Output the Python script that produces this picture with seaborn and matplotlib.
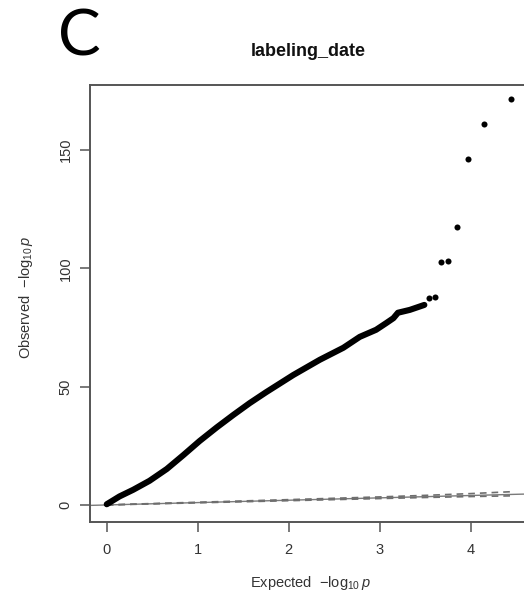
import matplotlib
matplotlib.use("Agg")
import matplotlib.pyplot as plt
import seaborn as sns

# Q-Q plot of association p-values: expected vs observed -log10(p)
# dense body of the distribution (traced as a path)
curve_expected = [0.00, 0.14, 0.29, 0.47, 0.66, 0.84, 1.02, 1.21, 1.39, 1.57,
                  1.75, 2.05, 2.34, 2.60, 2.78, 2.96, 3.07, 3.15, 3.20, 3.33, 3.49]
curve_observed = [0.3, 3.6, 6.4, 10.2, 15.2, 21.0, 27.0, 32.8, 38.0, 43.0,
                  47.6, 54.9, 61.3, 66.4, 71.0, 74.0, 76.8, 78.9, 81.2, 82.4, 84.5]

# the most significant hits, shown as separate points
top_expected = [4.447, 4.146, 3.970, 3.845, 3.748, 3.669, 3.602, 3.544]
top_observed = [171.6, 160.8, 146.3, 117.6, 103.2, 102.7, 88.0, 87.3]

# 95% band around the null expectation
band_expected = [0.0, 0.5, 1.0, 2.0, 3.0, 3.5, 4.0, 4.447]
band_upper = [0.0, 0.6, 1.15, 2.25, 3.4, 4.05, 4.8, 5.6]
band_lower = [0.0, 0.45, 0.9, 1.8, 2.7, 3.15, 3.55, 3.85]

x_ticks = [0, 1, 2, 3, 4]
y_ticks = [0, 50, 100, 150]
title = "labeling_date"
panel = "C"
x_label = r"Expected  $-\mathrm{log}_{10}\,\mathit{p}$"
y_label = r"Observed  $-\mathrm{log}_{10}\,\mathit{p}$"

sns.set_theme(style="white")
plt.rcParams["font.family"] = ["Liberation Sans", "DejaVu Sans"]
plt.rcParams["mathtext.fontset"] = "custom"
plt.rcParams["mathtext.rm"] = "Liberation Sans"
plt.rcParams["mathtext.it"] = "Liberation Sans:italic"
plt.rcParams["mathtext.bf"] = "Liberation Sans:bold"

W, H = 524, 596
fig = plt.figure(figsize=(W / 100, H / 100), dpi=100)
fig.patch.set_facecolor("white")
# plot region runs slightly past the right edge of the canvas
ax = fig.add_axes([90 / W, 1 - 522 / H, 443 / W, 437 / H])
ax.set_facecolor("white")

# null line y = x
ax.axline((0, 0), slope=1, color="#7a7a7a", lw=1.0, zorder=1)
sns.lineplot(x=band_expected, y=band_upper, ax=ax, color="#6e6e6e", lw=1.2,
             linestyle=(0, (4, 3)), sort=False, zorder=2)
sns.lineplot(x=band_expected, y=band_lower, ax=ax, color="#6e6e6e", lw=1.2,
             linestyle=(0, (4, 3)), sort=False, zorder=2)

sns.lineplot(x=curve_expected, y=curve_observed, ax=ax, color="black", lw=4.4,
             sort=False, solid_capstyle="round", solid_joinstyle="round", zorder=3)
sns.scatterplot(x=top_expected, y=top_observed, ax=ax, color="black", s=19,
                linewidth=0, zorder=4)

ax.set_xlim(-0.184, 4.684)
ax.set_ylim(-7.2, 177.4)
ax.set_xticks(x_ticks)
ax.set_xticklabels([str(v) for v in x_ticks])
ax.set_yticks(y_ticks)
ax.set_yticklabels([str(v) for v in y_ticks], rotation=90, va="center")
ax.tick_params(axis="both", bottom=True, left=True, direction="out", length=7,
               width=1.1, color="#555555", labelsize=10.5, labelcolor="#333333")
ax.tick_params(axis="x", pad=8)
ax.tick_params(axis="y", pad=5.5)
for sp in ax.spines.values():
    sp.set_color("#555555")
    sp.set_linewidth(1.4)
ax.set_xlabel("")
ax.set_ylabel("")

fig.text(310 / W, 1 - 583 / H, x_label, ha="center", va="center",
         fontsize=10.5, color="#333333")
fig.text(25.7 / W, 1 - 297 / H, y_label, ha="center", va="center",
         rotation=90, fontsize=10.5, color="#333333")
fig.text(308 / W, 1 - 56 / H, title, ha="center", va="baseline",
         fontsize=13, fontweight="bold", color="#111111")
fig.text(58 / W, 1 - 56 / H, panel, ha="left", va="baseline",
         fontsize=46, family=["Lato", "DejaVu Sans"], color="black")

fig.savefig("out.png", dpi=100)
